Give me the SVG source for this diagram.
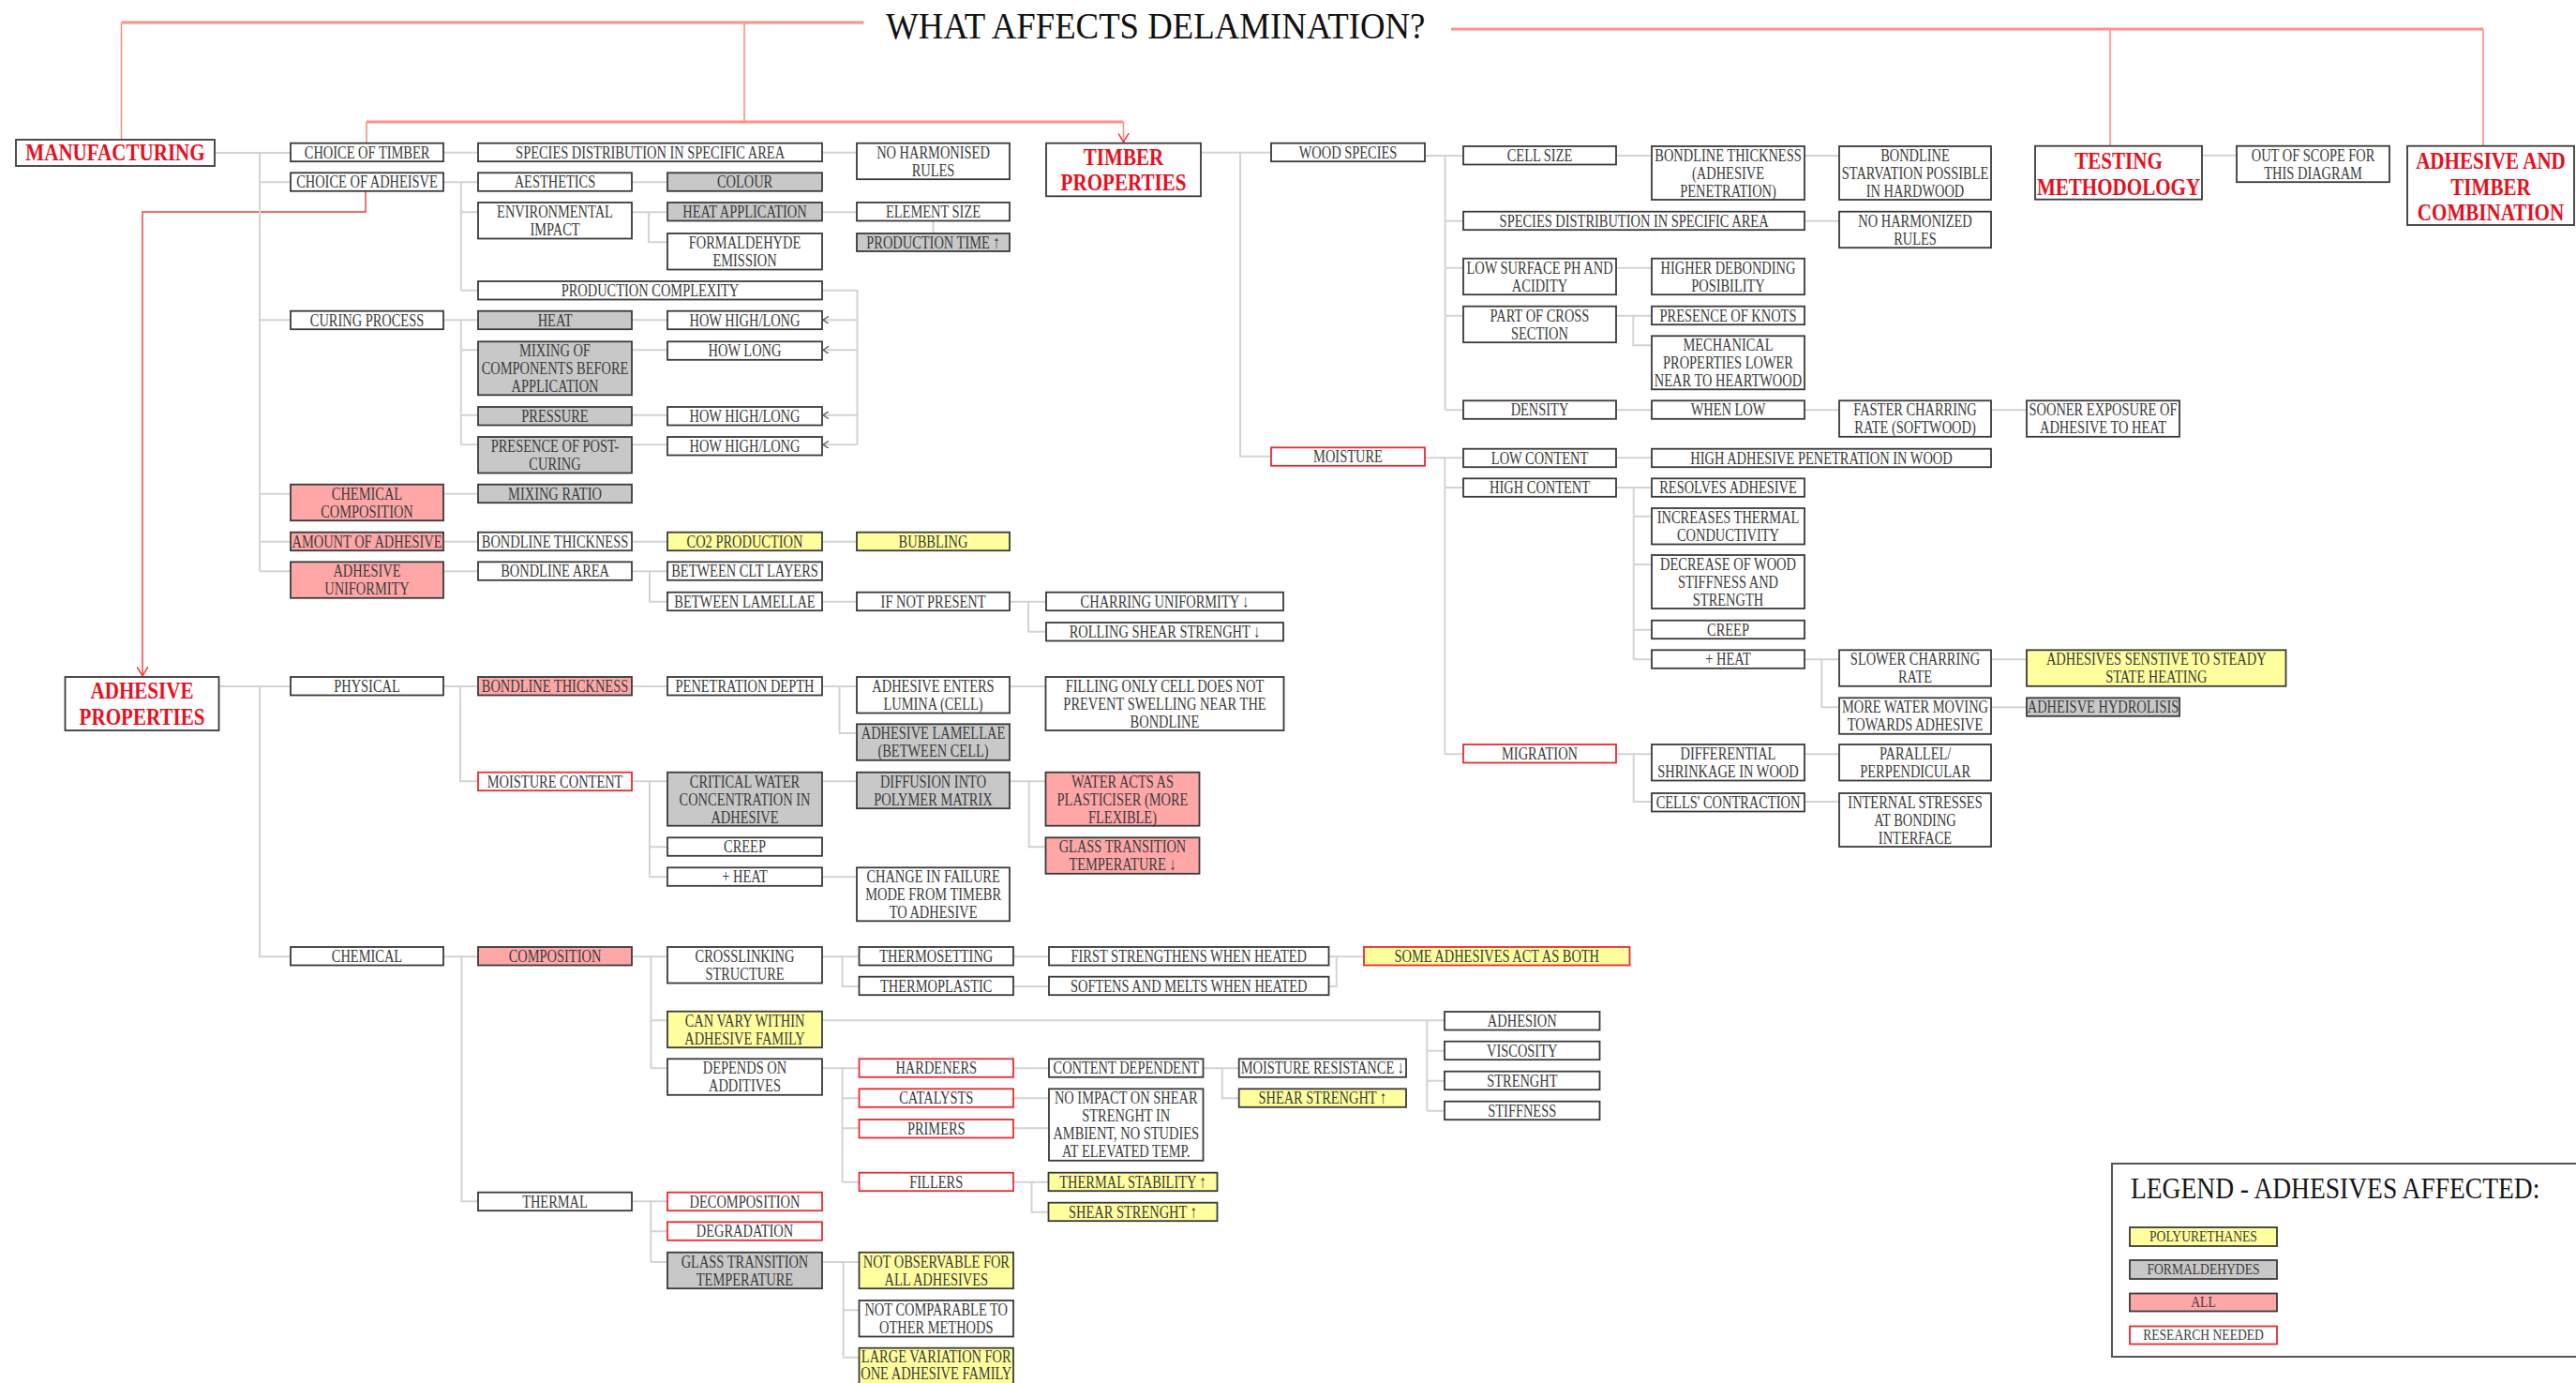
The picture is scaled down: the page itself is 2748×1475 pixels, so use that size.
<svg xmlns="http://www.w3.org/2000/svg" width="2748" height="1475" viewBox="0 0 2748 1475">
<style>
.c{fill:none;stroke:#d3d3d3;stroke-width:2}
.rl{fill:none;stroke:#ff8f86;stroke-width:1.6}
.rt{fill:none;stroke:#ff8f86;stroke-width:3}
.ra{fill:none;stroke:#ef3a3a;stroke-width:1.4}
rect{stroke:#3a3a3a;stroke-width:1.8;fill:#fff}
rect.g{fill:#c8c8c8}
rect.p{fill:#ffa7a7}
rect.y{fill:#ffff9d}
rect.r{stroke:#ea2a30}
text{font-family:"Liberation Serif","Times New Roman",serif;text-anchor:middle;transform-box:fill-box;transform-origin:center}
.t{font-size:19px;fill:#3b3b3b;transform:scaleX(.76)}
.h{font-size:24.5px;font-weight:bold;fill:#e5101e;transform:scaleX(.86)}
.lt{font-size:16px;fill:#3e3e3e;transform:scaleX(.85)}
</style>
<defs>
<marker id="ga" viewBox="0 0 6 8" refX="6" refY="4" markerWidth="6" markerHeight="8" orient="auto" markerUnits="userSpaceOnUse"><path d="M0,0 L6,4 L0,8" fill="none" stroke="#555" stroke-width="1.2"/></marker>
<marker id="ra" viewBox="0 0 10 12" refX="10" refY="6" markerWidth="10" markerHeight="12" orient="auto" markerUnits="userSpaceOnUse"><path d="M0,0 L10,6 L0,12" fill="none" stroke="#ef3a3a" stroke-width="1.5"/></marker>
</defs>
<rect x="0" y="0" width="2748" height="1475" style="fill:#fff;stroke:none"/>

<!-- title -->
<g transform="translate(945,40.7) scale(.897,1)"><text x="0" y="0" style="font-size:41px;fill:#111;text-anchor:start">WHAT AFFECTS DELAMINATION?</text></g>

<!-- red lines from the title -->
<g id="title-links">
<path class="rt" d="M129.5,24 H921.5"/>
<path class="rl" d="M129.5,24 V149"/>
<path class="rl" d="M794,24 V130"/>
<path class="rt" d="M391,130 H1198.5"/>
<path class="rl" d="M391,130 V152.7"/>
<path class="rl" d="M1198.5,130 V151.5" marker-end="url(#ra)"/>
<path class="rt" d="M1548,31 H2649"/>
<path class="rl" d="M2251,31 V155.7"/>
<path class="rl" d="M2649,31 V155.7"/>
<path class="ra" d="M390,204.3 V226 H152 V721" marker-end="url(#ra)"/>
</g>

<!-- connectors -->
<g id="connectors">
<path class="c" d="M229,163 H310 M277,163 V609.3 M277,194.3 H310 M277,341.3 H310 M277,526.7 H310 M277,577.7 H310 M277,609.3 H310"/>
<path class="c" d="M473,162.7 H510 M877,162.7 H914"/>
<path class="c" d="M473,194.3 H510 M491.8,194.3 V309.7 M491.8,226.3 H510 M491.8,309.7 H510"/>
<path class="c" d="M674,194.3 H712 M674,226.3 H712 M692,226.3 V258.3 H712 M877,226.3 H914 M995.5,236 V249"/>
<path class="c" d="M877,309.7 H914.5 V474.3"/>
<path class="c" d="M914.5,341.3 H878" marker-end="url(#ga)"/>
<path class="c" d="M914.5,373.3 H878" marker-end="url(#ga)"/>
<path class="c" d="M914.5,442.7 H878" marker-end="url(#ga)"/>
<path class="c" d="M914.5,474.3 H878" marker-end="url(#ga)"/>
<path class="c" d="M473,341.3 H510 M491.8,341.3 V474.3 M491.8,373.3 H510 M491.8,442.7 H510 M491.8,474.3 H510"/>
<path class="c" d="M674,341.3 H712 M674,373.3 H712 M674,442.7 H712 M674,474.3 H712"/>
<path class="c" d="M473,526.7 H510 M473,577.7 H510 M674,577.7 H712 M877,577.7 H914"/>
<path class="c" d="M473,609.3 H510 M674,609.3 H712 M693,609.3 V641.7 H712 M877,641.7 H914 M1077,641.7 H1116 M1097,641.7 V673.7 H1116"/>
<path class="c" d="M233.5,732 H310 M277,732 V1020.3 H310"/>
<path class="c" d="M473,732 H510 M491,732 V833.3 H510"/>
<path class="c" d="M674,732 H712 M877,732 H914 M895.5,732 V782 H914 M1077,732 H1115.5"/>
<path class="c" d="M674,833.3 H712 M693,833.3 V935.3 M693,903.3 H712 M693,935.3 H712"/>
<path class="c" d="M877,833.3 H914 M1077,833.3 H1115.5 M1097.7,833.3 V903.3 H1115.5 M877,935.3 H914"/>
<path class="c" d="M473,1020.3 H510 M492.4,1020.3 V1281.3 H510"/>
<path class="c" d="M674,1020.3 H712 M694.5,1020.3 V1139.3 M694.5,1088.3 H712 M694.5,1139.3 H712"/>
<path class="c" d="M877,1020.3 H916.5 M898.6,1020.3 V1052 H916.5 M1081,1020.3 H1119 M1081,1052 H1119"/>
<path class="c" d="M1417.5,1020.3 H1455 M1417.5,1052 H1425.7 V1020.3"/>
<path class="c" d="M877,1088.3 H1541 M1522.3,1088.3 V1184.7 M1522.3,1120.7 H1541 M1522.3,1152.7 H1541 M1522.3,1184.7 H1541"/>
<path class="c" d="M877,1139.3 H916.5 M898.6,1139.3 V1260.7 M898.6,1171.3 H916.5 M898.6,1203.3 H916.5 M898.6,1260.7 H916.5"/>
<path class="c" d="M1081,1139.3 H1119 M1283.5,1139.3 H1321.7 M1303.8,1139.3 V1171.3 H1321.7 M1081,1171.3 H1119 M1081,1203.3 H1119"/>
<path class="c" d="M1081,1260.7 H1118.5 M1100.5,1260.7 V1292.7 H1118.5"/>
<path class="c" d="M674,1281.3 H712 M694.3,1281.3 V1346 M694.3,1313.3 H712 M694.3,1346 H712"/>
<path class="c" d="M877,1346 H916.5 M899.6,1346 V1447.7 M899.6,1397.3 H916.5 M899.6,1447.7 H916.5"/>
<path class="c" d="M1281,162.7 H1356 M1323,162.7 V486.7 H1356"/>
<path class="c" d="M1520,166 H1561 M1541.6,166 V437.3 M1541.6,235.7 H1561 M1541.6,285.7 H1561 M1541.6,336.7 H1561 M1541.6,437.3 H1561"/>
<path class="c" d="M1724,166 H1762 M1925,166 H1962 M1925,235.7 H1962 M1724,285.7 H1762"/>
<path class="c" d="M1724,336.7 H1762 M1742.3,336.7 V368.3 H1762"/>
<path class="c" d="M1724,437.3 H1762 M1925,437.3 H1962 M2124,437.3 H2162"/>
<path class="c" d="M1520,488.3 H1561 M1541.3,488.3 V804.3 M1541.3,520 H1561 M1541.3,804.3 H1561 M1724,488.3 H1762"/>
<path class="c" d="M1724,520 H1762 M1742.7,520 V703.3 M1742.7,550.7 H1762 M1742.7,602 H1762 M1742.7,671.7 H1762 M1742.7,703.3 H1762"/>
<path class="c" d="M1925,703.3 H1962 M1943.3,703.3 V754.3 H1962 M2124,703.3 H2162 M2124,754.3 H2162"/>
<path class="c" d="M1724,804.3 H1762 M1742.7,804.3 V855 H1762 M1925,804.3 H1962 M1925,855 H1962"/>
<path class="c" d="M2349,165.7 H2386"/>
</g>

<!-- headings -->
<g id="manufacturing"><rect x="17" y="149" width="212" height="28"/><text class="h" x="123" y="171">MANUFACTURING</text></g>
<g id="timber-properties"><rect x="1116" y="152.7" width="165" height="56.6"/><text class="h" x="1198.5" y="175.7"><tspan x="1198.5" y="175.7">TIMBER</tspan><tspan x="1198.5" y="203.3">PROPERTIES</tspan></text></g>
<g id="adhesive-properties"><rect x="69.5" y="722" width="164" height="57"/><text class="h" x="151.5" y="745.5"><tspan x="151.5" y="745.5">ADHESIVE</tspan><tspan x="151.5" y="773">PROPERTIES</tspan></text></g>
<g id="testing-methodology"><rect x="2171" y="155.7" width="178" height="57"/><text class="h" x="2260" y="180"><tspan x="2260" y="180">TESTING</tspan><tspan x="2260" y="208">METHODOLOGY</tspan></text></g>
<g id="adhesive-timber-combination"><rect x="2568" y="155.7" width="178" height="84.3"/><text class="h" x="2657" y="180"><tspan x="2657" y="180">ADHESIVE AND</tspan><tspan x="2657" y="208">TIMBER</tspan><tspan x="2657" y="235.5">COMBINATION</tspan></text></g>

<!-- manufacturing -->
<g id="choice-of-timber"><rect x="310" y="152.7" width="163" height="19.5"/><text class="t" x="391.5" y="168.7">CHOICE OF TIMBER</text></g>
<g id="choice-of-adhesive"><rect x="310" y="184.3" width="163" height="19.5"/><text class="t" x="391.5" y="200.3">CHOICE OF ADHEISVE</text></g>
<g id="curing-process"><rect x="310" y="331.7" width="163" height="19.5"/><text class="t" x="391.5" y="347.7">CURING PROCESS</text></g>
<g id="chemical-composition"><rect class="p" x="310" y="516.7" width="163" height="38.5"/><text class="t" x="391.5" y="532.7"><tspan x="391.5" y="532.7">CHEMICAL</tspan><tspan x="391.5" y="551.7">COMPOSITION</tspan></text></g>
<g id="amount-of-adhesive"><rect class="p" x="310" y="567.7" width="163" height="19.5"/><text class="t" x="391.5" y="583.7">AMOUNT OF ADHESIVE</text></g>
<g id="adhesive-uniformity"><rect class="p" x="310" y="599.3" width="163" height="38.5"/><text class="t" x="391.5" y="615.3"><tspan x="391.5" y="615.3">ADHESIVE</tspan><tspan x="391.5" y="634.3">UNIFORMITY</tspan></text></g>

<g id="species-distribution-m"><rect x="510" y="152.7" width="367" height="19.5"/><text class="t" x="693.5" y="168.7">SPECIES DISTRIBUTION IN SPECIFIC AREA</text></g>
<g id="aesthetics"><rect x="510" y="184.3" width="164" height="19.5"/><text class="t" x="592" y="200.3">AESTHETICS</text></g>
<g id="environmental-impact"><rect x="510" y="216" width="164" height="38.5"/><text class="t" x="592" y="232"><tspan x="592" y="232">ENVIRONMENTAL</tspan><tspan x="592" y="251">IMPACT</tspan></text></g>
<g id="production-complexity"><rect x="510" y="300" width="367" height="19.5"/><text class="t" x="693.5" y="316">PRODUCTION COMPLEXITY</text></g>
<g id="heat"><rect class="g" x="510" y="331.7" width="164" height="19.5"/><text class="t" x="592" y="347.7">HEAT</text></g>
<g id="mixing-of-components"><rect class="g" x="510" y="364.3" width="164" height="57"/><text class="t" x="592" y="380.3"><tspan x="592" y="380.3">MIXING OF</tspan><tspan x="592" y="399.3">COMPONENTS BEFORE</tspan><tspan x="592" y="418.3">APPLICATION</tspan></text></g>
<g id="pressure"><rect class="g" x="510" y="434" width="164" height="19.5"/><text class="t" x="592" y="450">PRESSURE</text></g>
<g id="post-curing"><rect class="g" x="510" y="466" width="164" height="38.5"/><text class="t" x="592" y="482"><tspan x="592" y="482">PRESENCE OF POST-</tspan><tspan x="592" y="501">CURING</tspan></text></g>
<g id="mixing-ratio"><rect class="g" x="510" y="516.7" width="164" height="19.5"/><text class="t" x="592" y="532.7">MIXING RATIO</text></g>
<g id="bondline-thickness-m"><rect x="510" y="567.7" width="164" height="19.5"/><text class="t" x="592" y="583.7">BONDLINE THICKNESS</text></g>
<g id="bondline-area"><rect x="510" y="599.3" width="164" height="19.5"/><text class="t" x="592" y="615.3">BONDLINE AREA</text></g>

<g id="colour"><rect class="g" x="712" y="184.3" width="165" height="19.5"/><text class="t" x="794.5" y="200.3">COLOUR</text></g>
<g id="heat-application"><rect class="g" x="712" y="216" width="165" height="19.5"/><text class="t" x="794.5" y="232">HEAT APPLICATION</text></g>
<g id="formaldehyde-emission"><rect x="712" y="249" width="165" height="38.5"/><text class="t" x="794.5" y="265"><tspan x="794.5" y="265">FORMALDEHYDE</tspan><tspan x="794.5" y="284">EMISSION</tspan></text></g>
<g id="how-high-long-1"><rect x="712" y="331.7" width="165" height="19.5"/><text class="t" x="794.5" y="347.7">HOW HIGH/LONG</text></g>
<g id="how-long"><rect x="712" y="364.3" width="165" height="19.5"/><text class="t" x="794.5" y="380.3">HOW LONG</text></g>
<g id="how-high-long-2"><rect x="712" y="434" width="165" height="19.5"/><text class="t" x="794.5" y="450">HOW HIGH/LONG</text></g>
<g id="how-high-long-3"><rect x="712" y="466" width="165" height="19.5"/><text class="t" x="794.5" y="482">HOW HIGH/LONG</text></g>
<g id="co2-production"><rect class="y" x="712" y="567.7" width="165" height="19.5"/><text class="t" x="794.5" y="583.7">CO2 PRODUCTION</text></g>
<g id="between-clt-layers"><rect x="712" y="599.3" width="165" height="19.5"/><text class="t" x="794.5" y="615.3">BETWEEN CLT LAYERS</text></g>
<g id="between-lamellae"><rect x="712" y="631.7" width="165" height="19.5"/><text class="t" x="794.5" y="647.7">BETWEEN LAMELLAE</text></g>

<g id="no-harmonised-rules"><rect x="914" y="152.7" width="163" height="38.5"/><text class="t" x="995.5" y="168.7"><tspan x="995.5" y="168.7">NO HARMONISED</tspan><tspan x="995.5" y="187.7">RULES</tspan></text></g>
<g id="element-size"><rect x="914" y="216" width="163" height="19.5"/><text class="t" x="995.5" y="232">ELEMENT SIZE</text></g>
<g id="production-time"><rect class="g" x="914" y="249" width="163" height="19"/><text class="t" x="995.5" y="264.8">PRODUCTION TIME ↑</text></g>
<g id="bubbling"><rect class="y" x="914" y="567.7" width="163" height="19.5"/><text class="t" x="995.5" y="583.7">BUBBLING</text></g>
<g id="if-not-present"><rect x="914" y="631.7" width="163" height="19.5"/><text class="t" x="995.5" y="647.7">IF NOT PRESENT</text></g>
<g id="charring-uniformity"><rect x="1116" y="631.7" width="253" height="19.5"/><text class="t" x="1242.5" y="647.7">CHARRING UNIFORMITY ↓</text></g>
<g id="rolling-shear"><rect x="1116" y="664" width="253" height="19.5"/><text class="t" x="1242.5" y="680">ROLLING SHEAR STRENGHT ↓</text></g>

<!-- adhesive properties -->
<g id="physical"><rect x="310" y="722" width="163" height="19.5"/><text class="t" x="391.5" y="738">PHYSICAL</text></g>
<g id="chemical"><rect x="310" y="1010" width="163" height="19.5"/><text class="t" x="391.5" y="1026">CHEMICAL</text></g>
<g id="bondline-thickness-a"><rect class="p" x="510" y="722" width="164" height="19.5"/><text class="t" x="592" y="738">BONDLINE THICKNESS</text></g>
<g id="moisture-content"><rect class="r" x="510" y="823.7" width="164" height="19.5"/><text class="t" x="592" y="839.7">MOISTURE CONTENT</text></g>
<g id="composition"><rect class="p" x="510" y="1010" width="164" height="19.5"/><text class="t" x="592" y="1026">COMPOSITION</text></g>
<g id="thermal"><rect x="510" y="1271.7" width="164" height="19.5"/><text class="t" x="592" y="1287.7">THERMAL</text></g>

<g id="penetration-depth"><rect x="712" y="722" width="165" height="19.5"/><text class="t" x="794.5" y="738">PENETRATION DEPTH</text></g>
<g id="critical-water"><rect class="g" x="712" y="823.7" width="165" height="57"/><text class="t" x="794.5" y="839.7"><tspan x="794.5" y="839.7">CRITICAL WATER</tspan><tspan x="794.5" y="858.7">CONCENTRATION IN</tspan><tspan x="794.5" y="877.7">ADHESIVE</tspan></text></g>
<g id="creep-a"><rect x="712" y="893.3" width="165" height="19.5"/><text class="t" x="794.5" y="909.3">CREEP</text></g>
<g id="heat-a"><rect x="712" y="925.3" width="165" height="19.5"/><text class="t" x="794.5" y="941.3">+ HEAT</text></g>
<g id="crosslinking"><rect x="712" y="1010" width="165" height="38.5"/><text class="t" x="794.5" y="1026"><tspan x="794.5" y="1026">CROSSLINKING</tspan><tspan x="794.5" y="1045">STRUCTURE</tspan></text></g>
<g id="can-vary"><rect class="y" x="712" y="1078.7" width="165" height="38.5"/><text class="t" x="794.5" y="1094.7"><tspan x="794.5" y="1094.7">CAN VARY WITHIN</tspan><tspan x="794.5" y="1113.7">ADHESIVE FAMILY</tspan></text></g>
<g id="depends-on-additives"><rect x="712" y="1129.3" width="165" height="38.5"/><text class="t" x="794.5" y="1145.3"><tspan x="794.5" y="1145.3">DEPENDS ON</tspan><tspan x="794.5" y="1164.3">ADDITIVES</tspan></text></g>
<g id="decomposition"><rect class="r" x="712" y="1271.7" width="165" height="19.5"/><text class="t" x="794.5" y="1287.7">DECOMPOSITION</text></g>
<g id="degradation"><rect class="r" x="712" y="1303.3" width="165" height="19.5"/><text class="t" x="794.5" y="1319.3">DEGRADATION</text></g>
<g id="glass-transition-t"><rect class="g" x="712" y="1335.7" width="165" height="38.5"/><text class="t" x="794.5" y="1351.7"><tspan x="794.5" y="1351.7">GLASS TRANSITION</tspan><tspan x="794.5" y="1370.7">TEMPERATURE</tspan></text></g>

<g id="lumina"><rect x="914" y="722" width="163" height="38.5"/><text class="t" x="995.5" y="738"><tspan x="995.5" y="738">ADHESIVE ENTERS</tspan><tspan x="995.5" y="757">LUMINA (CELL)</tspan></text></g>
<g id="adhesive-lamellae"><rect class="g" x="914" y="772.3" width="163" height="38.5"/><text class="t" x="995.5" y="788.3"><tspan x="995.5" y="788.3">ADHESIVE LAMELLAE</tspan><tspan x="995.5" y="807.3">(BETWEEN CELL)</tspan></text></g>
<g id="diffusion"><rect class="g" x="914" y="823.7" width="163" height="38.5"/><text class="t" x="995.5" y="839.7"><tspan x="995.5" y="839.7">DIFFUSION INTO</tspan><tspan x="995.5" y="858.7">POLYMER MATRIX</tspan></text></g>
<g id="change-in-failure"><rect x="914" y="925.3" width="163" height="57"/><text class="t" x="995.5" y="941.3"><tspan x="995.5" y="941.3">CHANGE IN FAILURE</tspan><tspan x="995.5" y="960.3">MODE FROM TIMEBR</tspan><tspan x="995.5" y="979.3">TO ADHESIVE</tspan></text></g>
<g id="thermosetting"><rect x="916.5" y="1010" width="164.5" height="19.5"/><text class="t" x="998.75" y="1026">THERMOSETTING</text></g>
<g id="thermoplastic"><rect x="916.5" y="1041.7" width="164.5" height="19.5"/><text class="t" x="998.75" y="1057.7">THERMOPLASTIC</text></g>
<g id="hardeners"><rect class="r" x="916.5" y="1129.3" width="164.5" height="19.5"/><text class="t" x="998.75" y="1145.3">HARDENERS</text></g>
<g id="catalysts"><rect class="r" x="916.5" y="1161.3" width="164.5" height="19.5"/><text class="t" x="998.75" y="1177.3">CATALYSTS</text></g>
<g id="primers"><rect class="r" x="916.5" y="1194" width="164.5" height="19.5"/><text class="t" x="998.75" y="1210">PRIMERS</text></g>
<g id="fillers"><rect class="r" x="916.5" y="1250.7" width="164.5" height="19.5"/><text class="t" x="998.75" y="1266.7">FILLERS</text></g>
<g id="not-observable"><rect class="y" x="916.5" y="1335.7" width="164.5" height="38.5"/><text class="t" x="998.75" y="1351.7"><tspan x="998.75" y="1351.7">NOT OBSERVABLE FOR</tspan><tspan x="998.75" y="1370.7">ALL ADHESIVES</tspan></text></g>
<g id="not-comparable"><rect x="916.5" y="1387" width="164.5" height="38.5"/><text class="t" x="998.75" y="1403"><tspan x="998.75" y="1403">NOT COMPARABLE TO</tspan><tspan x="998.75" y="1422">OTHER METHODS</tspan></text></g>
<g id="large-variation"><rect class="y" x="916.5" y="1437.7" width="164.5" height="38.5"/><text class="t" x="998.75" y="1453.5"><tspan x="998.75" y="1453.5">LARGE VARIATION FOR</tspan><tspan x="998.75" y="1471">ONE ADHESIVE FAMILY</tspan></text></g>

<g id="filling-only-cell"><rect x="1115.5" y="722" width="254" height="57"/><text class="t" x="1242.5" y="738"><tspan x="1242.5" y="738">FILLING ONLY CELL DOES NOT</tspan><tspan x="1242.5" y="757">PREVENT SWELLING NEAR THE</tspan><tspan x="1242.5" y="776">BONDLINE</tspan></text></g>
<g id="water-plasticiser"><rect class="p" x="1115.5" y="823.7" width="164" height="57"/><text class="t" x="1197.5" y="839.7"><tspan x="1197.5" y="839.7">WATER ACTS AS</tspan><tspan x="1197.5" y="858.7">PLASTICISER (MORE</tspan><tspan x="1197.5" y="877.7">FLEXIBLE)</tspan></text></g>
<g id="glass-transition-down"><rect class="p" x="1115.5" y="893.3" width="164" height="38.5"/><text class="t" x="1197.5" y="909.3"><tspan x="1197.5" y="909.3">GLASS TRANSITION</tspan><tspan x="1197.5" y="928.3">TEMPERATURE ↓</tspan></text></g>
<g id="first-strengthens"><rect x="1119" y="1010" width="298.5" height="19.5"/><text class="t" x="1268.25" y="1026">FIRST STRENGTHENS WHEN HEATED</text></g>
<g id="softens-melts"><rect x="1119" y="1041.7" width="298.5" height="19.5"/><text class="t" x="1268.25" y="1057.7">SOFTENS AND MELTS WHEN HEATED</text></g>
<g id="act-as-both"><rect class="y r" x="1455" y="1010" width="283.5" height="19.5"/><text class="t" x="1596.75" y="1026">SOME ADHESIVES ACT AS BOTH</text></g>
<g id="content-dependent"><rect x="1119" y="1129.3" width="164.5" height="19.5"/><text class="t" x="1201.25" y="1145.3">CONTENT DEPENDENT</text></g>
<g id="no-impact"><rect x="1119" y="1161.3" width="164.5" height="76.5"/><text class="t" x="1201.25" y="1177.3"><tspan x="1201.25" y="1177.3">NO IMPACT ON SHEAR</tspan><tspan x="1201.25" y="1196.3">STRENGHT IN</tspan><tspan x="1201.25" y="1215.3">AMBIENT, NO STUDIES</tspan><tspan x="1201.25" y="1234.3">AT ELEVATED TEMP.</tspan></text></g>
<g id="moisture-resistance"><rect x="1321.7" y="1129.3" width="178.3" height="19.5"/><text class="t" x="1410.85" y="1145.3">MOISTURE RESISTANCE ↓</text></g>
<g id="shear-strength-h"><rect class="y" x="1321.7" y="1161.3" width="178.3" height="19.5"/><text class="t" x="1410.85" y="1177.3">SHEAR STRENGHT ↑</text></g>
<g id="thermal-stability"><rect class="y" x="1118.5" y="1250.7" width="180" height="19.5"/><text class="t" x="1208.5" y="1266.7">THERMAL STABILITY ↑</text></g>
<g id="shear-strength-f"><rect class="y" x="1118.5" y="1282.7" width="180" height="19.5"/><text class="t" x="1208.5" y="1298.7">SHEAR STRENGHT ↑</text></g>
<g id="adhesion"><rect x="1541" y="1079" width="165.5" height="19.5"/><text class="t" x="1623.75" y="1095">ADHESION</text></g>
<g id="viscosity"><rect x="1541" y="1110.7" width="165.5" height="19.5"/><text class="t" x="1623.75" y="1126.7">VISCOSITY</text></g>
<g id="strength"><rect x="1541" y="1142.7" width="165.5" height="19.5"/><text class="t" x="1623.75" y="1158.7">STRENGHT</text></g>
<g id="stiffness"><rect x="1541" y="1174.7" width="165.5" height="19.5"/><text class="t" x="1623.75" y="1190.7">STIFFNESS</text></g>

<!-- timber properties -->
<g id="wood-species"><rect x="1356" y="152.7" width="164" height="19.5"/><text class="t" x="1438" y="168.7">WOOD SPECIES</text></g>
<g id="moisture"><rect class="r" x="1356" y="477.3" width="164" height="19.5"/><text class="t" x="1438" y="493.3">MOISTURE</text></g>
<g id="cell-size"><rect x="1561" y="156" width="163" height="19.5"/><text class="t" x="1642.5" y="172">CELL SIZE</text></g>
<g id="species-distribution-t"><rect x="1561" y="225.7" width="364" height="19.5"/><text class="t" x="1743" y="241.7">SPECIES DISTRIBUTION IN SPECIFIC AREA</text></g>
<g id="low-surface-ph"><rect x="1561" y="275.7" width="163" height="38.5"/><text class="t" x="1642.5" y="291.7"><tspan x="1642.5" y="291.7">LOW SURFACE PH AND</tspan><tspan x="1642.5" y="310.7">ACIDITY</tspan></text></g>
<g id="part-of-cross-section"><rect x="1561" y="326.7" width="163" height="38.5"/><text class="t" x="1642.5" y="342.7"><tspan x="1642.5" y="342.7">PART OF CROSS</tspan><tspan x="1642.5" y="361.7">SECTION</tspan></text></g>
<g id="density"><rect x="1561" y="427.3" width="163" height="19.5"/><text class="t" x="1642.5" y="443.3">DENSITY</text></g>
<g id="low-content"><rect x="1561" y="478.7" width="163" height="19.5"/><text class="t" x="1642.5" y="494.7">LOW CONTENT</text></g>
<g id="high-content"><rect x="1561" y="510.3" width="163" height="19.5"/><text class="t" x="1642.5" y="526.3">HIGH CONTENT</text></g>
<g id="migration"><rect class="r" x="1561" y="794" width="163" height="19.5"/><text class="t" x="1642.5" y="810">MIGRATION</text></g>

<g id="bondline-penetration"><rect x="1762" y="156" width="163" height="57"/><text class="t" x="1843.5" y="172"><tspan x="1843.5" y="172">BONDLINE THICKNESS</tspan><tspan x="1843.5" y="191">(ADHESIVE</tspan><tspan x="1843.5" y="210">PENETRATION)</tspan></text></g>
<g id="higher-debonding"><rect x="1762" y="275.7" width="163" height="38.5"/><text class="t" x="1843.5" y="291.7"><tspan x="1843.5" y="291.7">HIGHER DEBONDING</tspan><tspan x="1843.5" y="310.7">POSIBILITY</tspan></text></g>
<g id="presence-of-knots"><rect x="1762" y="326.7" width="163" height="19.5"/><text class="t" x="1843.5" y="342.7">PRESENCE OF KNOTS</text></g>
<g id="mechanical-properties"><rect x="1762" y="358.3" width="163" height="57"/><text class="t" x="1843.5" y="374.3"><tspan x="1843.5" y="374.3">MECHANICAL</tspan><tspan x="1843.5" y="393.3">PROPERTIES LOWER</tspan><tspan x="1843.5" y="412.3">NEAR TO HEARTWOOD</tspan></text></g>
<g id="when-low"><rect x="1762" y="427.3" width="163" height="19.5"/><text class="t" x="1843.5" y="443.3">WHEN LOW</text></g>
<g id="high-penetration"><rect x="1762" y="478.7" width="362" height="19.5"/><text class="t" x="1943" y="494.7">HIGH ADHESIVE PENETRATION IN WOOD</text></g>
<g id="resolves-adhesive"><rect x="1762" y="510.3" width="163" height="19.5"/><text class="t" x="1843.5" y="526.3">RESOLVES ADHESIVE</text></g>
<g id="thermal-conductivity"><rect x="1762" y="542" width="163" height="38.5"/><text class="t" x="1843.5" y="558"><tspan x="1843.5" y="558">INCREASES THERMAL</tspan><tspan x="1843.5" y="577">CONDUCTIVITY</tspan></text></g>
<g id="decrease-stiffness"><rect x="1762" y="592" width="163" height="57"/><text class="t" x="1843.5" y="608"><tspan x="1843.5" y="608">DECREASE OF WOOD</tspan><tspan x="1843.5" y="627">STIFFNESS AND</tspan><tspan x="1843.5" y="646">STRENGTH</tspan></text></g>
<g id="creep-t"><rect x="1762" y="661.7" width="163" height="19.5"/><text class="t" x="1843.5" y="677.7">CREEP</text></g>
<g id="heat-t"><rect x="1762" y="693.3" width="163" height="19.5"/><text class="t" x="1843.5" y="709.3">+ HEAT</text></g>
<g id="differential-shrinkage"><rect x="1762" y="794" width="163" height="38.5"/><text class="t" x="1843.5" y="810"><tspan x="1843.5" y="810">DIFFERENTIAL</tspan><tspan x="1843.5" y="829">SHRINKAGE IN WOOD</tspan></text></g>
<g id="cells-contraction"><rect x="1762" y="846" width="163" height="19.5"/><text class="t" x="1843.5" y="862">CELLS' CONTRACTION</text></g>

<g id="bondline-starvation"><rect x="1962" y="156" width="162" height="57"/><text class="t" x="2043" y="172"><tspan x="2043" y="172">BONDLINE</tspan><tspan x="2043" y="191">STARVATION POSSIBLE</tspan><tspan x="2043" y="210">IN HARDWOOD</tspan></text></g>
<g id="no-harmonized-rules"><rect x="1962" y="225.7" width="162" height="38.5"/><text class="t" x="2043" y="241.7"><tspan x="2043" y="241.7">NO HARMONIZED</tspan><tspan x="2043" y="260.7">RULES</tspan></text></g>
<g id="faster-charring"><rect x="1962" y="427.3" width="162" height="38.5"/><text class="t" x="2043" y="443.3"><tspan x="2043" y="443.3">FASTER CHARRING</tspan><tspan x="2043" y="462.3">RATE (SOFTWOOD)</tspan></text></g>
<g id="slower-charring"><rect x="1962" y="693.3" width="162" height="38.5"/><text class="t" x="2043" y="709.3"><tspan x="2043" y="709.3">SLOWER CHARRING</tspan><tspan x="2043" y="728.3">RATE</tspan></text></g>
<g id="more-water"><rect x="1962" y="744.3" width="162" height="38.5"/><text class="t" x="2043" y="760.3"><tspan x="2043" y="760.3">MORE WATER MOVING</tspan><tspan x="2043" y="779.3">TOWARDS ADHESIVE</tspan></text></g>
<g id="parallel-perpendicular"><rect x="1962" y="794" width="162" height="38.5"/><text class="t" x="2043" y="810"><tspan x="2043" y="810">PARALLEL/</tspan><tspan x="2043" y="829">PERPENDICULAR</tspan></text></g>
<g id="internal-stresses"><rect x="1962" y="846" width="162" height="57"/><text class="t" x="2043" y="862"><tspan x="2043" y="862">INTERNAL STRESSES</tspan><tspan x="2043" y="881">AT BONDING</tspan><tspan x="2043" y="900">INTERFACE</tspan></text></g>
<g id="sooner-exposure"><rect x="2162" y="427.3" width="163" height="38.5"/><text class="t" x="2243.5" y="443.3"><tspan x="2243.5" y="443.3">SOONER EXPOSURE OF</tspan><tspan x="2243.5" y="462.3">ADHESIVE TO HEAT</tspan></text></g>
<g id="steady-state-heating"><rect class="y" x="2162" y="693.3" width="276.5" height="38.5"/><text class="t" x="2300.25" y="709.3"><tspan x="2300.25" y="709.3">ADHESIVES SENSTIVE TO STEADY</tspan><tspan x="2300.25" y="728.3">STATE HEATING</tspan></text></g>
<g id="adhesive-hydrolysis"><rect class="g" x="2162" y="744.3" width="163" height="19.5"/><text class="t" x="2243.5" y="760.3">ADHEISVE HYDROLISIS</text></g>

<g id="out-of-scope"><rect x="2386" y="155.7" width="163" height="38.5"/><text class="t" x="2467.5" y="171.7"><tspan x="2467.5" y="171.7">OUT OF SCOPE FOR</tspan><tspan x="2467.5" y="190.7">THIS DIAGRAM</tspan></text></g>

<!-- legend -->
<g id="legend">
<rect x="2253" y="1241" width="520" height="206" style="stroke:#555;stroke-width:2"/>
<g transform="translate(2273,1278) scale(.86,1)"><text x="0" y="0" style="font-size:32px;fill:#151515;text-anchor:start">LEGEND - ADHESIVES AFFECTED:</text></g>
<rect class="y" x="2272" y="1309" width="157" height="20"/><text class="lt" x="2350.5" y="1324.5">POLYURETHANES</text>
<rect class="g" x="2272" y="1344" width="157" height="20"/><text class="lt" x="2350.5" y="1359.5">FORMALDEHYDES</text>
<rect class="p" x="2272" y="1379.5" width="157" height="19"/><text class="lt" x="2350.5" y="1394.5">ALL</text>
<rect class="r" x="2272" y="1414.5" width="157" height="19"/><text class="lt" x="2350.5" y="1429.5">RESEARCH NEEDED</text>
</g>
</svg>
